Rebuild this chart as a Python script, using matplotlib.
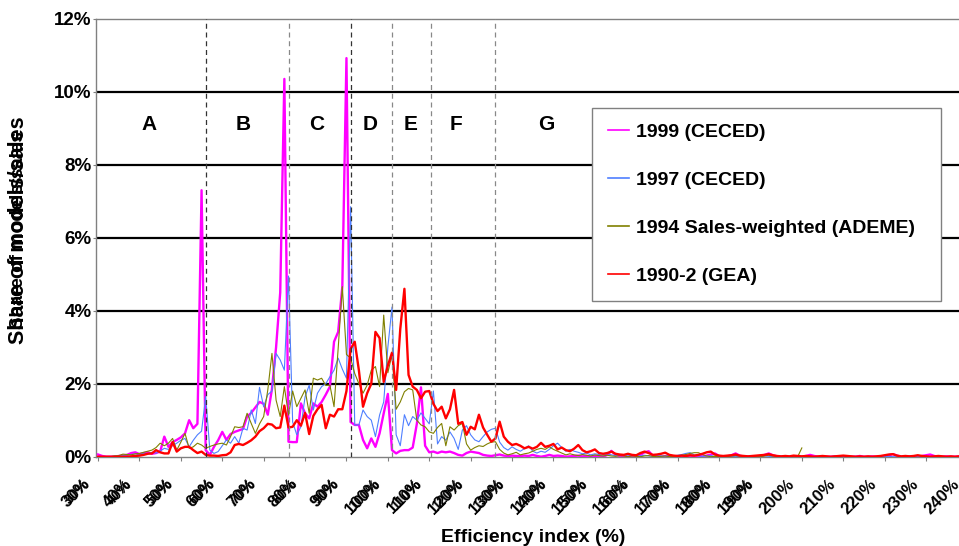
import numpy as np
import matplotlib
matplotlib.use('Agg')
import matplotlib.pyplot as plt
import matplotlib.transforms as mtransforms

plt.rcParams['font.family'] = ['Liberation Sans', 'DejaVu Sans']
plt.rcParams['font.weight'] = 'bold'

# efficiency index categories (%)
pct = np.arange(30, 241)

# share of models / sales (%) per efficiency index, 30 .. 240
s1999 = [0.06, 0.02, 0.00, 0.00, 0.00, 0.02, 0.03, 0.05, 0.10, 0.12,
         0.07, 0.10, 0.12, 0.08, 0.10, 0.14, 0.55, 0.27, 0.40, 0.46,
         0.53, 0.64, 1.00, 0.78, 0.90, 7.30, 0.18, 0.05, 0.27, 0.45,
         0.68, 0.46, 0.62, 0.68, 0.72, 0.76, 1.10, 1.20, 1.35, 1.50,
         1.45, 1.15, 1.85, 3.00, 4.50, 10.35, 0.41, 0.40, 0.40, 1.46,
         1.19, 1.05, 1.46, 1.37, 1.50, 1.70, 1.92, 3.15, 3.42, 4.66,
         10.92, 0.95, 0.87, 0.87, 0.46, 0.23, 0.50, 0.27, 0.64, 1.19,
         1.72, 0.18, 0.09, 0.16, 0.18, 0.18, 0.25, 0.90, 1.90, 0.30,
         0.12, 0.14, 0.10, 0.14, 0.12, 0.14, 0.10, 0.05, 0.03, 0.10,
         0.14, 0.12, 0.10, 0.05, 0.03, 0.02, 0.04, 0.06, 0.03, 0.02,
         0.03, 0.02, 0.02, 0.03, 0.02, 0.05, 0.02, 0.00, 0.02, 0.05,
         0.02, 0.03, 0.02, 0.00, 0.01, 0.02, 0.03, 0.01, 0.02, 0.00,
         0.02, 0.02, 0.00, 0.05, 0.16, 0.05, 0.02, 0.01, 0.00, 0.02,
         0.00, 0.05, 0.12, 0.15, 0.03, 0.01, 0.00, 0.02, 0.01, 0.00,
         0.01, 0.00, 0.02, 0.03, 0.01, 0.02, 0.01, 0.03, 0.06, 0.09,
         0.02, 0.00, 0.01, 0.04, 0.09, 0.03, 0.00, 0.01, 0.00, 0.01,
         0.02, 0.05, 0.09, 0.04, 0.01, 0.00, 0.01, 0.00, 0.00, 0.01,
         0.00, 0.02, 0.05, 0.02, 0.00, 0.01, 0.00, 0.00, 0.01, 0.00,
         0.00, 0.01, 0.00, 0.00, 0.02, 0.00, 0.00, 0.01, 0.00, 0.00,
         0.01, 0.04, 0.07, 0.03, 0.00, 0.00, 0.01, 0.00, 0.00, 0.02,
         0.04, 0.06, 0.02, 0.00, 0.00, 0.01, 0.00, 0.00, 0.01, 0.00, 0.00]

s1997 = [0.00, 0.00, 0.00, 0.00, 0.02, 0.03, 0.03, 0.05, 0.06, 0.08,
         0.05, 0.10, 0.08, 0.12, 0.10, 0.15, 0.23, 0.20, 0.30, 0.37,
         0.45, 0.50, 0.27, 0.45, 0.60, 0.70, 1.65, 0.18, 0.09, 0.14,
         0.30, 0.46, 0.37, 0.55, 0.37, 0.78, 0.73, 1.28, 0.91, 1.90,
         1.37, 1.70, 1.80, 2.83, 2.65, 2.37, 4.95, 0.95, 0.60, 0.82,
         1.64, 1.96, 1.28, 1.74, 1.92, 2.00, 2.19, 2.37, 2.70, 2.40,
         2.15, 6.85, 0.87, 0.87, 1.28, 1.10, 1.00, 0.55, 1.14, 1.50,
         3.00, 4.10, 0.60, 0.30, 1.15, 0.85, 1.10, 1.00, 1.20, 1.05,
         0.90, 1.80, 0.35, 0.55, 0.45, 0.68, 0.50, 0.20, 0.73, 0.85,
         0.60, 0.46, 0.41, 0.55, 0.68, 0.75, 0.78, 0.40, 0.25, 0.18,
         0.27, 0.20, 0.15, 0.22, 0.30, 0.15, 0.10, 0.15, 0.12, 0.20,
         0.30, 0.37, 0.25, 0.15, 0.20, 0.15, 0.12, 0.08, 0.10, 0.05,
         0.08, 0.06, 0.04, 0.08, 0.05, 0.03, 0.06, 0.04, 0.02, 0.05,
         0.03, 0.02, 0.04, 0.02, 0.01, 0.03, 0.02, 0.01, 0.03, 0.02,
         0.04, 0.06, 0.09, 0.11, 0.05, 0.02, 0.01, 0.02, 0.03, 0.01,
         0.00, 0.01, 0.02, 0.00, 0.01, 0.00, 0.02, 0.01, 0.00, 0.00,
         0.01, 0.02, 0.01, 0.00, 0.00, 0.01, 0.00, 0.00, 0.00, 0.00,
         0.00, 0.01, 0.00, 0.00, 0.00, 0.01, 0.00, 0.00, 0.02, 0.00,
         0.00, 0.00, 0.00, 0.01, 0.00, 0.00, 0.00, 0.00, 0.00, 0.00,
         0.00, 0.01, 0.00, 0.00, 0.00, 0.00, 0.00, 0.00, 0.00, 0.00,
         0.00, 0.00, 0.01, 0.00, 0.00, 0.00, 0.00, 0.00, 0.00, 0.00, 0.00]

# 1994 series stops at 200 %
s1994 = [0.00, 0.00, 0.00, 0.00, 0.02, 0.03, 0.07, 0.06, 0.05, 0.08,
         0.09, 0.12, 0.15, 0.18, 0.25, 0.37, 0.30, 0.37, 0.50, 0.18,
         0.40, 0.64, 0.23, 0.27, 0.37, 0.32, 0.23, 0.28, 0.32, 0.35,
         0.37, 0.32, 0.55, 0.82, 0.80, 0.82, 1.19, 0.91, 0.64, 0.90,
         1.10, 1.83, 2.83, 1.55, 1.10, 1.92, 1.14, 1.80, 1.37, 1.60,
         1.83, 1.19, 2.15, 2.10, 2.15, 1.95, 1.96, 1.37, 2.97, 4.66,
         2.80, 2.70, 2.28, 2.00, 1.74, 1.96, 2.37, 2.47, 1.92, 3.88,
         2.30, 2.80, 1.30, 1.50, 1.78, 1.87, 1.83, 1.00, 0.87, 0.82,
         0.68, 0.64, 0.80, 0.91, 0.30, 0.82, 0.73, 0.85, 0.91, 0.35,
         0.18, 0.25, 0.30, 0.28, 0.35, 0.40, 0.41, 0.20, 0.10, 0.05,
         0.08, 0.12, 0.05, 0.08, 0.10, 0.15, 0.20, 0.23, 0.20, 0.27,
         0.20, 0.15, 0.10, 0.05, 0.08, 0.05, 0.03, 0.06, 0.04, 0.02,
         0.05, 0.03, 0.02, 0.04, 0.02, 0.01, 0.03, 0.02, 0.00, 0.02,
         0.01, 0.00, 0.02, 0.03, 0.01, 0.00, 0.01, 0.02, 0.00, 0.01,
         0.02, 0.04, 0.06, 0.09, 0.11, 0.11, 0.06, 0.02, 0.00, 0.01,
         0.00, 0.01, 0.00, 0.02, 0.03, 0.02, 0.00, 0.00, 0.01, 0.00,
         0.00, 0.02, 0.04, 0.02, 0.00, 0.00, 0.01, 0.00, 0.00, 0.00,
         0.24]

s1990 = [0.00, 0.00, 0.00, 0.00, 0.00, 0.00, 0.00, 0.00, 0.01, 0.02,
         0.03, 0.05, 0.08, 0.09, 0.18, 0.12, 0.09, 0.09, 0.40, 0.14,
         0.23, 0.27, 0.27, 0.18, 0.10, 0.14, 0.05, 0.03, 0.03, 0.02,
         0.04, 0.05, 0.12, 0.32, 0.35, 0.32, 0.38, 0.45, 0.55, 0.70,
         0.78, 0.90, 0.88, 0.78, 0.80, 1.40, 0.80, 0.82, 1.00, 0.85,
         1.20, 0.62, 1.12, 1.30, 1.42, 0.78, 1.15, 1.10, 1.30, 1.30,
         1.80, 2.95, 3.15, 2.37, 1.37, 1.74, 2.00, 3.42, 3.25, 2.05,
         2.50, 2.85, 1.83, 3.50, 4.60, 2.24, 1.92, 1.83, 1.60, 1.78,
         1.80, 1.45, 1.25, 1.37, 1.05, 1.30, 1.83, 0.90, 0.95, 0.60,
         0.82, 0.75, 1.15, 0.80, 0.60, 0.41, 0.50, 0.96, 0.55, 0.41,
         0.32, 0.35, 0.30, 0.23, 0.27, 0.22, 0.27, 0.38, 0.27, 0.30,
         0.35, 0.20, 0.25, 0.18, 0.15, 0.22, 0.32, 0.18, 0.12, 0.15,
         0.20, 0.10, 0.08, 0.10, 0.14, 0.08, 0.06, 0.05, 0.08, 0.05,
         0.04, 0.10, 0.14, 0.10, 0.05, 0.06, 0.08, 0.11, 0.05, 0.03,
         0.02, 0.03, 0.02, 0.04, 0.03, 0.05, 0.08, 0.12, 0.14, 0.06,
         0.03, 0.02, 0.03, 0.04, 0.06, 0.03, 0.02, 0.01, 0.02, 0.03,
         0.04, 0.05, 0.07, 0.04, 0.02, 0.01, 0.02, 0.01, 0.03, 0.02,
         0.01, 0.02, 0.01, 0.00, 0.01, 0.02, 0.01, 0.00, 0.01, 0.02,
         0.03, 0.02, 0.01, 0.00, 0.01, 0.00, 0.01, 0.00, 0.01, 0.02,
         0.04, 0.06, 0.07, 0.03, 0.01, 0.02, 0.01, 0.02, 0.04, 0.02,
         0.01, 0.00, 0.01, 0.02, 0.01, 0.00, 0.01, 0.00, 0.01, 0.00, 0.01]

# energy label classes: boundaries and label positions
class_bounds = [56, 76, 91, 101, 110.5, 126]
bound_colors = ['#333333', '#888888', '#333333', '#888888', '#888888', '#888888']
class_letters = ['A', 'B', 'C', 'D', 'E', 'F', 'G']
letter_x = [42.2, 65.0, 82.9, 95.6, 105.4, 116.5, 138.2]
letter_y = 9.1

fig = plt.figure(figsize=(9.59, 5.46), dpi=100)
ax = fig.add_axes([96 / 959, 1 - 456.7 / 546, 873.5 / 959, 438 / 546])

for y in [2, 4, 6, 8, 10]:
    ax.axhline(y, color='black', lw=1.6, zorder=1)

ax.plot(pct, s1999, color='#FF00FF', lw=1.7, label='1999 (CECED)', zorder=3)
ax.plot(pct, s1997, color='#4F7FFF', lw=0.8, label='1997 (CECED)', zorder=3)
ax.plot(pct[:len(s1994)], s1994, color='#808000', lw=0.8,
        label='1994 Sales-weighted (ADEME)', zorder=3)
ax.plot(pct, s1990, color='#FF0000', lw=1.7, label='1990-2 (GEA)', zorder=3)

for b, c in zip(class_bounds, bound_colors):
    ax.axvline(b, color=c, lw=0.9, ls=(0, (4, 3)), zorder=4)

for lx, letter in zip(letter_x, class_letters):
    ax.text(lx, letter_y, letter, ha='center', va='center', fontsize=15,
            fontweight='bold')

ax.set_xlim(29.5, 240.5)
ax.set_ylim(0, 12)

for side in ['left', 'bottom', 'top']:
    ax.spines[side].set_color('#808080')
    ax.spines[side].set_linewidth(1.0)
ax.spines['right'].set_visible(False)

yt = list(range(0, 13, 2))
ax.set_yticks(yt)
ax.set_yticklabels([f'{v}%' for v in yt])
ax.tick_params(axis='y', direction='out', length=2, color='#808080',
               labelsize=13.5, pad=1)

xt = list(range(30, 241, 10))
ax.set_xticks(xt)
ax.set_xticklabels([f'{v}%' for v in xt])
ax.tick_params(axis='x', direction='out', length=3, color='#808080',
               labelsize=12, pad=0)

offset = mtransforms.ScaledTranslation(-0.10, -0.21, fig.dpi_scale_trans)
for lbl in ax.get_xticklabels():
    lbl.set_rotation(45)
    lbl.set_ha('right')
    lbl.set_va('center')
    lbl.set_rotation_mode('anchor')
    lbl.set_transform(lbl.get_transform() + offset)

# doubled labels as in the original export
dup = mtransforms.blended_transform_factory(ax.transData, ax.transAxes) + \
    mtransforms.ScaledTranslation(-0.10, -0.252, fig.dpi_scale_trans)
for v in range(30, 200, 10):
    ax.text(v, 0, f'{v}%', transform=dup, rotation=45, rotation_mode='anchor',
            ha='right', va='center', fontsize=10.5, fontweight='bold',
            clip_on=False)

ax.set_xlabel('Efficiency index (%)', fontsize=14, fontweight='bold')
ax.xaxis.set_label_coords(0.5, -0.166)

fig.text(19 / 959, 1 - 230 / 546, 'Share of models/sales', rotation=90,
         ha='center', va='center', fontsize=15.5, fontweight='bold')
fig.text(19 / 959, 1 - 230 / 546, 'Share of models/sales', rotation=90,
         ha='center', va='center', fontsize=13.5, fontweight='bold')

leg = ax.legend(loc='upper left',
                bbox_to_anchor=(592 / 959, 1 - 300 / 546, 349 / 959, 192 / 546),
                bbox_transform=fig.transFigure, borderaxespad=0, mode='expand',
                prop={'size': 14, 'weight': 'bold'}, frameon=True,
                fancybox=False, edgecolor='#808080', framealpha=1,
                borderpad=0.8, labelspacing=1.56, handlelength=1.1,
                handletextpad=0.35)
leg.get_frame().set_linewidth(1.0)
for h in leg.get_lines():
    h.set_linewidth(1.2)

fig.savefig('out.png', dpi=100)
